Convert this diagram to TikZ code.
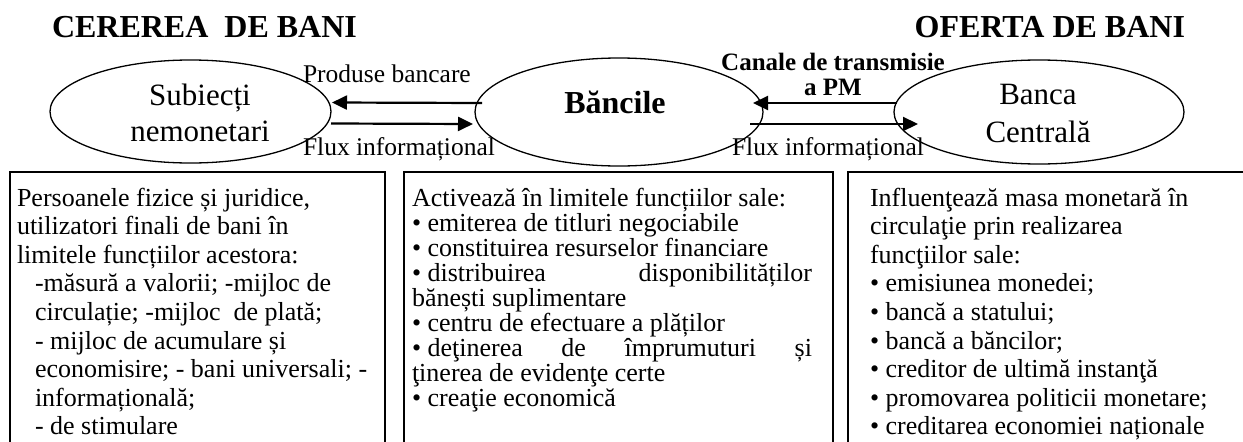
\documentclass[tikz,border=0pt]{standalone}
\usepackage{fontspec}
\setmainfont{Liberation Serif}
\usetikzlibrary{shapes.geometric,arrows.meta,calc}
\begin{document}
\begin{tikzpicture}[x=1pt,y=-1pt,
  every node/.style={inner sep=0pt,outer sep=0pt},
  ell/.style={draw,ellipse,line width=1.3pt},
  boxnode/.style={draw,rectangle,line width=1.5pt,anchor=north west},
  flow/.style={line width=2.2pt,-{Triangle[length=15pt,width=14pt]}},
  body/.style={font=\fontsize{26}{28}\selectfont,anchor=base west},
  lbl/.style={font=\fontsize{25.5}{28}\selectfont,anchor=base west},
  elltext/.style={font=\fontsize{31}{33}\selectfont,anchor=base},
  title/.style={font=\fontsize{32}{34}\selectfont\bfseries}]
\useasboundingbox (0,0) rectangle (1243,442);
\begin{scope}
\clip (0,0) rectangle (1243,442);
% boxes
\node[boxnode,minimum width=375pt,minimum height=300pt] (box1) at (10,172) {};
\node[boxnode,minimum width=429pt,minimum height=300pt] (box2) at (404,172) {};
\node[boxnode,minimum width=420pt,minimum height=300pt] (box3) at (848,172) {};
% box 1 text
\foreach \t/\xx [count=\i from 0] in {
  {Persoanele fizice și juridice,}/17,
  {utilizatori finali de bani în}/17,
  {limitele funcțiilor acestora:}/17,
  {-măsură a valorii; -mijloc de}/35,
  {circulație; -mijloc\ \ de plată;}/35,
  {- mijloc de acumulare și}/35,
  {economisire; - bani universali; -}/35,
  {informațională;}/35,
  {- de stimulare}/35}
  \node[body] (a\i) at (\xx,206+28.6*\i) {\t};
% box 3 text
\foreach \t [count=\i from 0] in {
  {Influenţează masa monetară în},
  {circulaţie prin realizarea},
  {funcţiilor sale:},
  {• emisiunea monedei;},
  {• bancă a statului;},
  {• bancă a băncilor;},
  {• creditor de ultimă instanţă},
  {• promovarea politicii monetare;},
  {• creditarea economiei naționale}}
  \node[body] (c\i) at (870,206+28.6*\i) {\t};
\end{scope}
% titles
\node[title,anchor=base west] (t1) at (52,37) {CEREREA\ \ DE BANI};
\node[title,anchor=base east] (t2) at (1185,37) {OFERTA DE BANI};
% ellipses
\node[ell,minimum width=281pt,minimum height=103pt] (L) at (190.5,111.5) {};
\node[ell,minimum width=288pt,minimum height=108pt] (M) at (619,112) {};
\node[ell,minimum width=290pt,minimum height=104pt] (R) at (1039,112) {};
% ellipse texts
\node[elltext] (L1) at (200,105) {Subiecți};
\node[elltext] (L2) at (200,141) {nemonetari};
\node[elltext,font=\fontsize{32}{34}\selectfont\bfseries] (M1) at (615,113) {Băncile};
\node[elltext] (R1) at (1038,104) {Banca};
\node[elltext] (R2) at (1038,142) {Centrală};
% arrows
\draw[flow] ($(M.west)+(7,-9)$) -- ($(L.east)+(1,-9)$);
\draw[flow] ($(L.east)+(0,12)$) -- ($(M.west)+(-2,12)$);
\draw[flow] ($(R.west)+(3,-9)$) -- ($(M.east)+(-10,-9)$);
\draw[flow] ($(M.east)+(-13,12)$) -- ($(R.west)+(24,12)$);
% arrow labels
\node[lbl] (pb) at (303,82) {Produse bancare};
\node[lbl] (f1) at (303,155) {Flux informațional};
\node[lbl] (f2) at (732,155) {Flux informațional};
\node[lbl,anchor=base,font=\fontsize{25}{27}\selectfont\bfseries] (k1) at (833,70) {Canale de transmisie};
\node[lbl,anchor=base,font=\fontsize{25}{27}\selectfont\bfseries] (k2) at (833,95) {a PM};
% box 2 text
\foreach \t [count=\i from 0] in {
  {Activează în limitele funcțiilor sale:},
  {• emiterea de titluri negociabile},
  {• constituirea resurselor financiare},
  {\hbox to 400pt{• distribuirea\hfill disponibilităților}},
  {bănești suplimentare},
  {• centru de efectuare a plăților},
  {\hbox to 400pt{• deţinerea\hfill de\hfill împrumuturi\hfill și}},
  {ţinerea de evidenţe certe},
  {• creaţie economică}}
  \node[body] (b\i) at (412,206+25*\i) {\t};
\end{tikzpicture}
\end{document}
